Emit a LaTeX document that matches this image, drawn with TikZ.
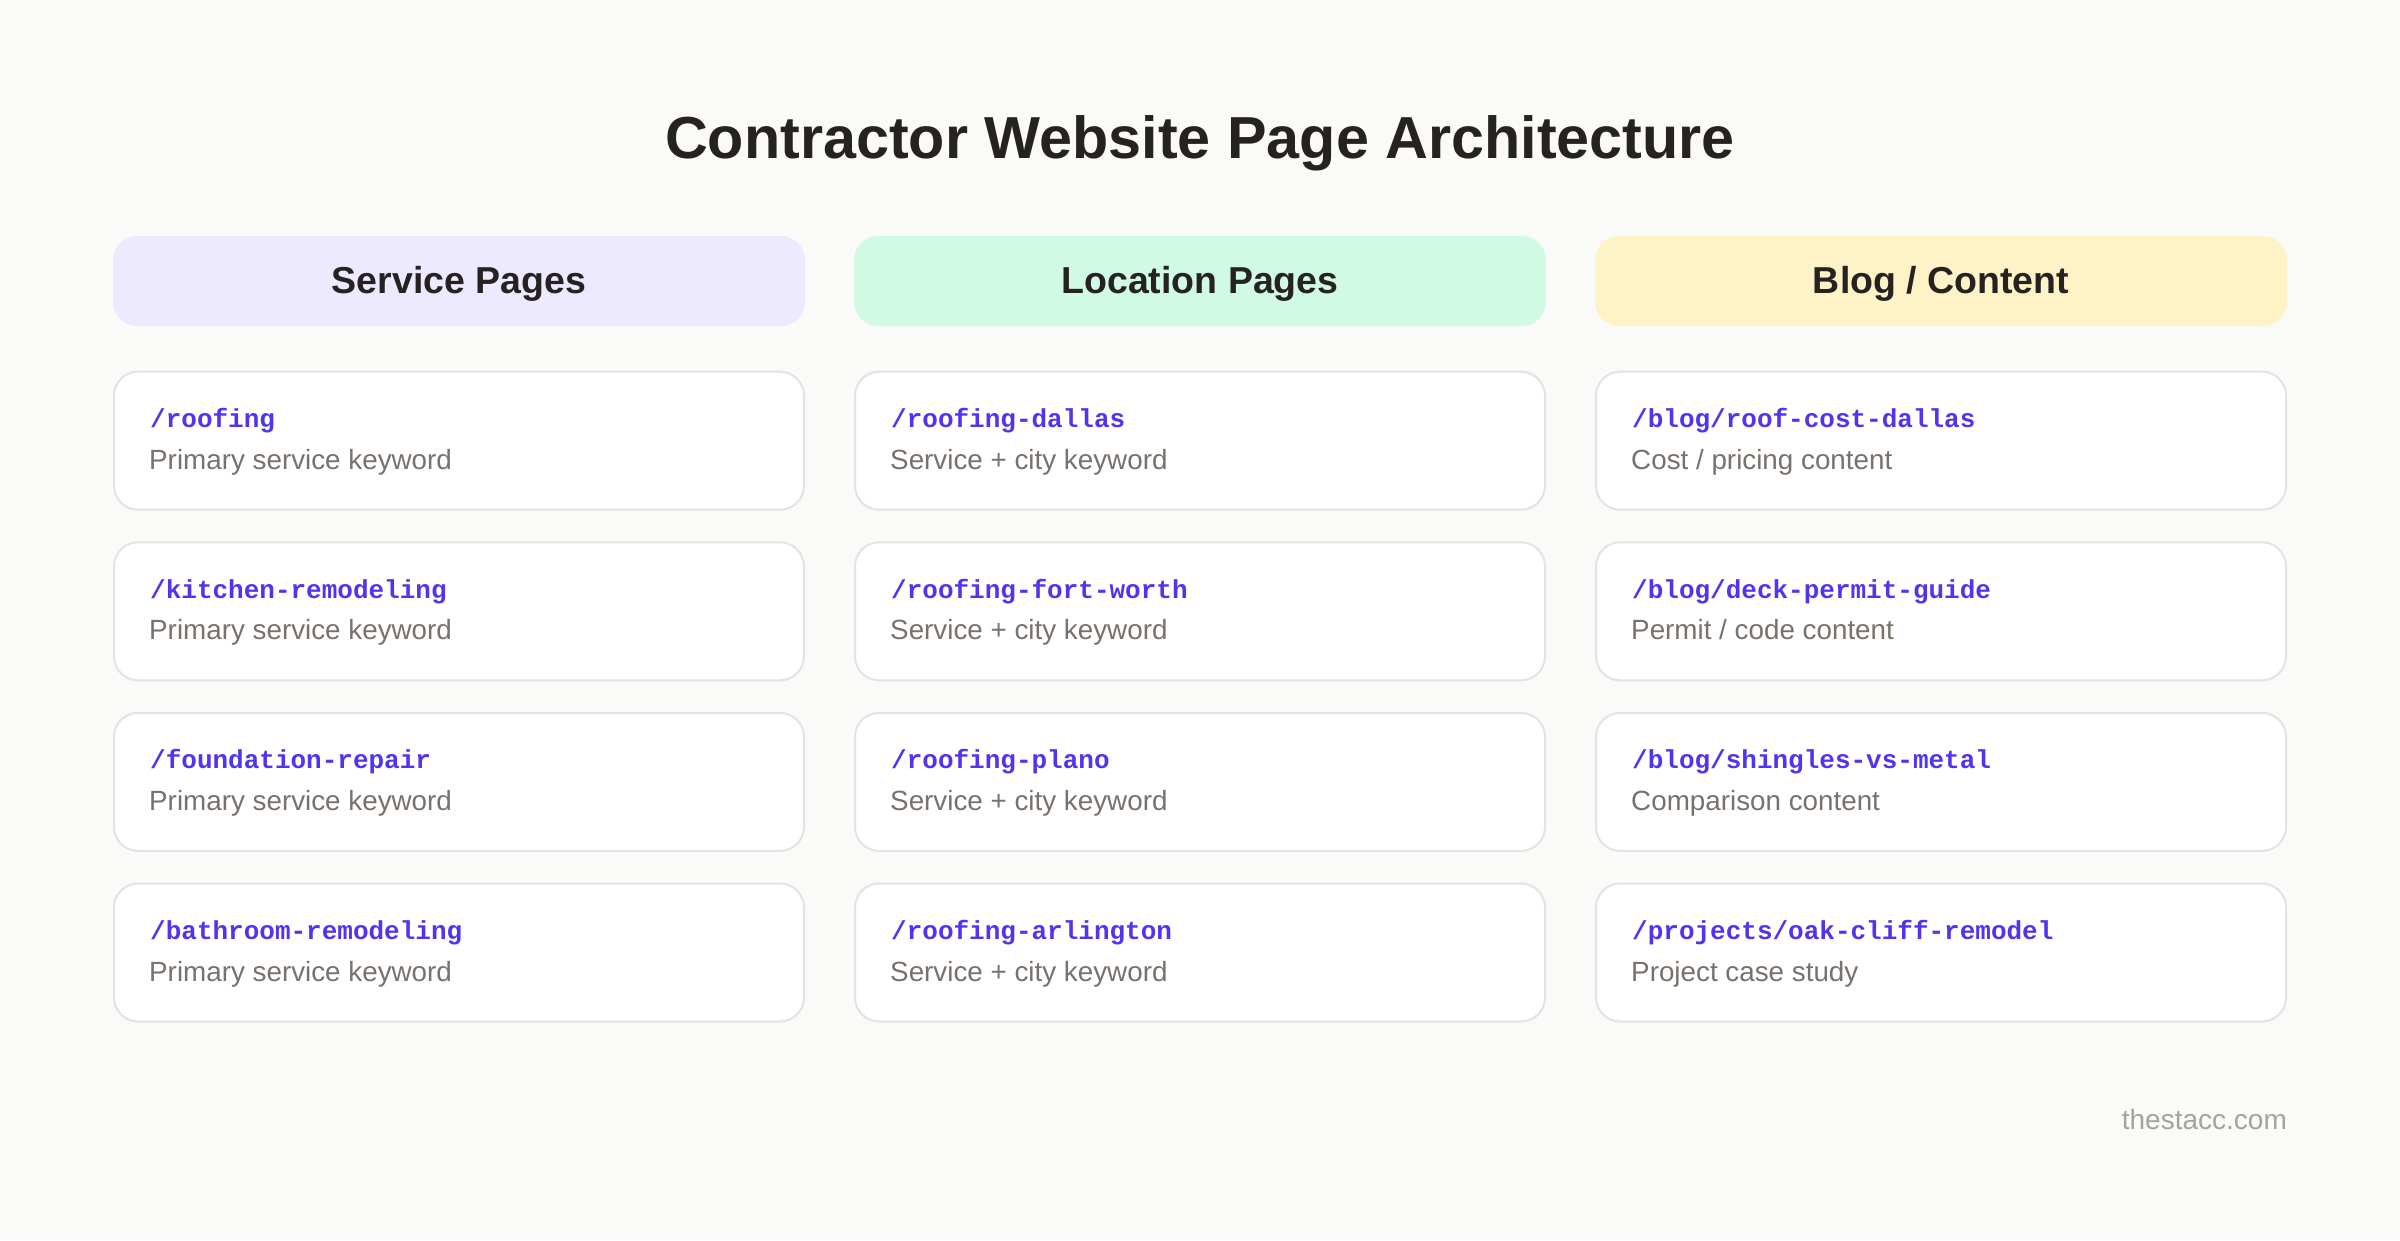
\documentclass[tikz,border=0pt]{standalone}
\usepackage{fontspec}
\setmainfont{Liberation Sans}
\newfontfamily\codefont{Liberation Mono}
\definecolor{bgcol}{HTML}{FAFAF9}
\definecolor{inkcol}{HTML}{262221}
\definecolor{codecol}{HTML}{4F35F0}
\definecolor{desccol}{HTML}{78716C}
\definecolor{footcol}{HTML}{A8A29E}
\definecolor{bordercol}{HTML}{E5E3E1}
\definecolor{hdrA}{HTML}{EDE9FE}
\definecolor{hdrB}{HTML}{D1FAE5}
\definecolor{hdrC}{HTML}{FEF3C7}
\tikzset{
  cardbox/.style={draw=bordercol, line width=2pt, fill=white, rounded corners=24pt,
    minimum width=690pt, minimum height=138pt, anchor=north west, inner sep=0pt, outer sep=0pt},
  hdrbox/.style={rounded corners=24pt, minimum width=692pt, minimum height=90pt,
    anchor=north west, inner sep=0pt, outer sep=0pt},
  hdrtxt/.style={anchor=base, inner sep=0pt, text=inkcol,
    font=\fontsize{37.5}{40}\selectfont\bfseries},
  codetxt/.style={anchor=base west, inner sep=0pt, text=codecol,
    font=\codefont\fontsize{26}{28}\selectfont\bfseries},
  desctxt/.style={anchor=base west, inner sep=0pt, text=desccol,
    font=\fontsize{27.8}{30}\selectfont},
}
\newcommand\mkcard[5]{%
  \node[cardbox] (#1) at ({#2+1},{#3+1}) {};
  \node[codetxt] (#1code) at ({#2+37},{#3+57}) {#4};
  \node[desctxt] (#1desc) at ({#2+36},{#3+98.5}) {#5};
}
\begin{document}
\begin{tikzpicture}[x=1pt,y=-1pt]
\fill[bgcol] (0,0) rectangle (2400,1240);
\useasboundingbox (0,0) rectangle (2400,1240);

\node[anchor=base, inner sep=0pt, text=inkcol, font=\fontsize{59.3}{62}\selectfont\bfseries]
  (title) at (1200,158) {Contractor Website Page Architecture};

\node[hdrbox, fill=hdrA] (hA) at (113,236) {};
\node[hdrbox, fill=hdrB] (hB) at (854,236) {};
\node[hdrbox, fill=hdrC] (hC) at (1595,236) {};
\node[hdrtxt] (hAt) at (459,293) {Service Pages};
\node[hdrtxt] (hBt) at (1200,293) {Location Pages};
\node[hdrtxt] (hCt) at (1941,293) {Blog / Content};

\mkcard{a1}{113}{370.7}{/roofing}{Primary service keyword}
\mkcard{a2}{113}{541.3}{/kitchen-remodeling}{Primary service keyword}
\mkcard{a3}{113}{711.9}{/foundation-repair}{Primary service keyword}
\mkcard{a4}{113}{882.5}{/bathroom-remodeling}{Primary service keyword}

\mkcard{b1}{854}{370.7}{/roofing-dallas}{Service + city keyword}
\mkcard{b2}{854}{541.3}{/roofing-fort-worth}{Service + city keyword}
\mkcard{b3}{854}{711.9}{/roofing-plano}{Service + city keyword}
\mkcard{b4}{854}{882.5}{/roofing-arlington}{Service + city keyword}

\mkcard{c1}{1595}{370.7}{/blog/roof-cost-dallas}{Cost / pricing content}
\mkcard{c2}{1595}{541.3}{/blog/deck-permit-guide}{Permit / code content}
\mkcard{c3}{1595}{711.9}{/blog/shingles-vs-metal}{Comparison content}
\mkcard{c4}{1595}{882.5}{/projects/oak-cliff-remodel}{Project case study}

\node[anchor=base east, inner sep=0pt, text=footcol, font=\fontsize{28}{30}\selectfont]
  (foot) at (2287,1129) {thestacc.com};
\end{tikzpicture}
\end{document}
